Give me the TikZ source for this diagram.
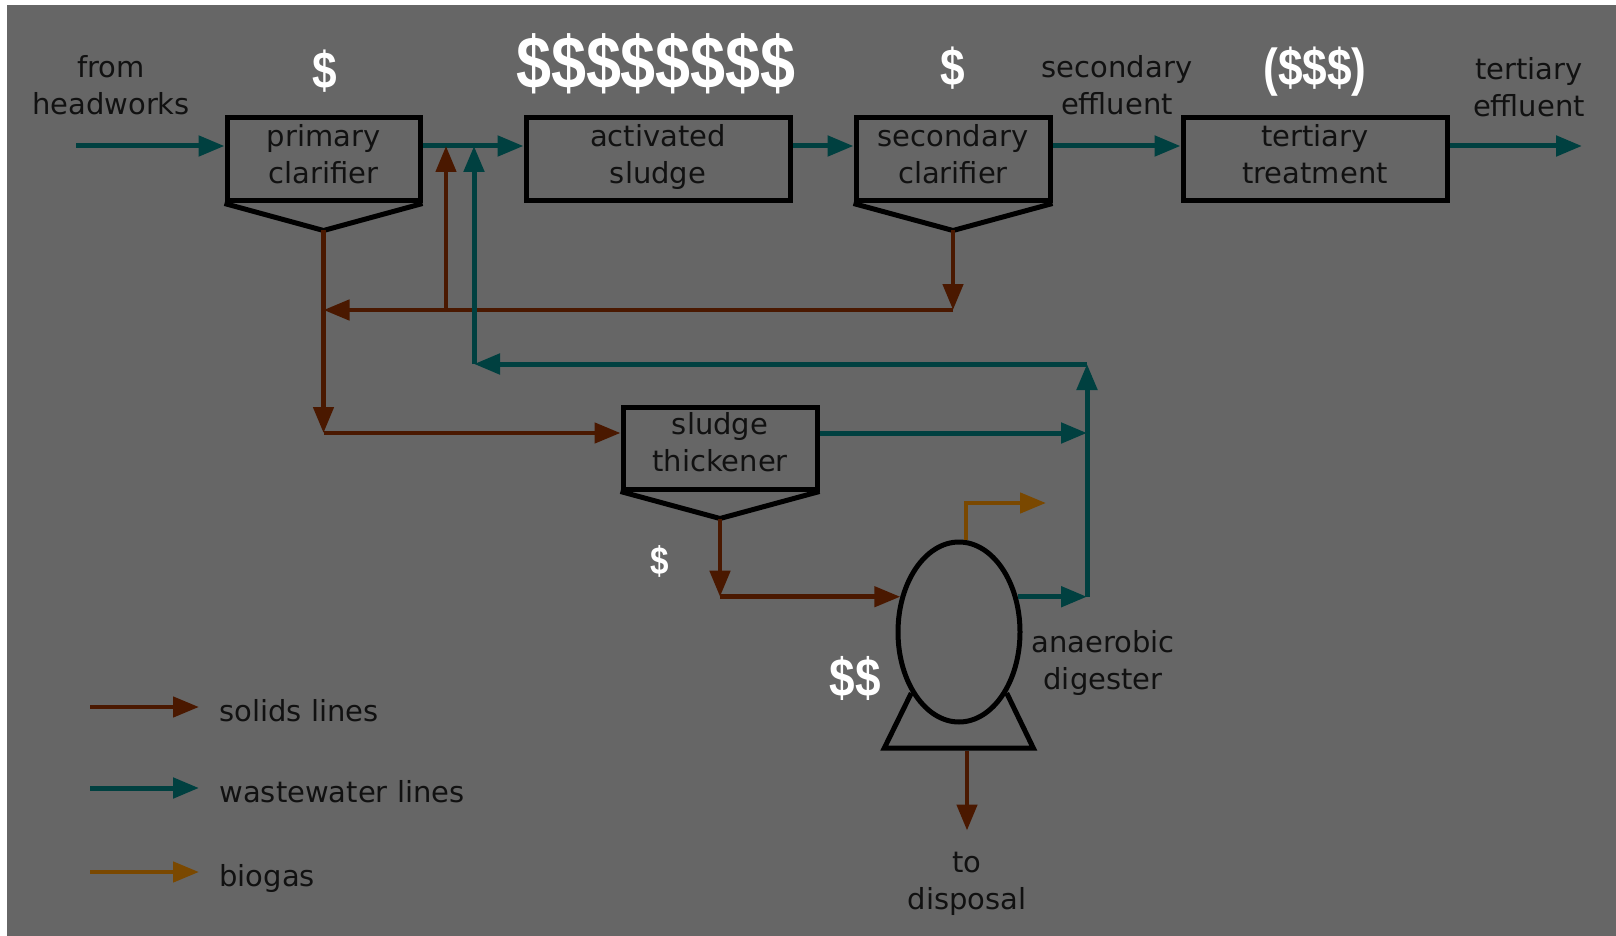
\documentclass[tikz,border=0pt]{standalone}
\usepackage{fontspec}
\setmainfont{DejaVu Sans}
\newfontfamily\dollarfont{Liberation Sans}[FakeStretch=0.85]
\usepackage{tikz}
\usetikzlibrary{arrows.meta, positioning, calc, shapes.geometric}

\definecolor{bggray}{RGB}{102,102,102}
\definecolor{solidc}{RGB}{74,24,0}
\definecolor{waterc}{RGB}{0,64,64}
\definecolor{gasc}{RGB}{122,72,0}
\definecolor{inkc}{RGB}{17,17,17}

\begin{document}
\begin{tikzpicture}[
  x=0.5pt, y=-0.5pt,
  >={Triangle[length=13pt, width=10pt]},
  lbl/.style={text=inkc, align=center, inner sep=0pt,
    font=\fontsize{14.5}{18.5}\selectfont},
  unit/.style={lbl, draw=black, line width=2.5pt, minimum height=41.5pt, text depth=6pt},
  vessel/.style={draw=black, line width=2.5pt},
  tank/.style={vessel, ellipse, inner sep=0pt, minimum width=61pt, minimum height=90pt},
  cost/.style={text=white, inner sep=0pt},
  solids/.style={draw=solidc, line width=2.3pt, ->},
  water/.style={draw=waterc, line width=2.5pt, ->},
  gas/.style={draw=gasc, line width=2.3pt, ->},
]
  \useasboundingbox (0,0) rectangle (1616,936);
  \fill[bggray] (7,5) rectangle (1616,936);

  % Process units
  \node[unit, minimum width=96.5pt] (pc) at (323.5,159.5) {primary\\clarifier};
  \node[unit, minimum width=132pt]  (as) at (658,159.5)   {activated\\sludge};
  \node[unit, minimum width=97pt]   (sc) at (953,159.5)   {secondary\\clarifier};
  \node[unit, minimum width=132pt]  (tt) at (1315,159.5)  {tertiary\\treatment};
  \node[unit, minimum width=97pt, minimum height=41pt] (th) at (720,448) {sludge\\thickener};
  \node[tank] (dg) at (959,632) {};

  % Hoppers under the clarifiers and the thickener
  \coordinate (pc-cone) at ($(pc.south)+(0,27)$);
  \coordinate (sc-cone) at ($(sc.south)+(0,27)$);
  \coordinate (th-cone) at ($(th.south)+(0,27)$);
  \draw[vessel] (pc.south west) -- (pc-cone) -- (pc.south east);
  \draw[vessel] (sc.south west) -- (sc-cone) -- (sc.south east);
  \draw[vessel] (th.south west) -- (th-cone) -- (th.south east);

  % Digester stand
  \draw[vessel] (dg.232) -- ++(-27,55) -- ++(149,0) -- (dg.308);

  % Main wastewater line
  \coordinate (feed) at (76,146);
  \coordinate (eff)  at (1582,146);
  \draw[water] (feed) -- (feed -| pc.west);
  \draw[water] (pc.east |- feed) -- (as.west |- feed);
  \draw[water] (as.east |- feed) -- (sc.west |- feed);
  \draw[water] (sc.east |- feed) -- (tt.west |- feed);
  \draw[water] (tt.east |- feed) -- (eff);

  % Return sludge from the secondary clarifier
  \coordinate (ras)    at (953,310);
  \coordinate (ras-up) at (446,310);
  \draw[solids] (sc-cone) -- (ras);
  \draw[solids] (ras) -- (pc-cone |- ras);
  \draw[solids] (ras-up) -- (ras-up |- feed);

  % Primary sludge to the thickener
  \coordinate (ps) at (323.5,433);
  \draw[solids] (pc-cone) -- (ps);
  \draw[solids] (ps) -- (ps -| th.west);

  % Thickened sludge to the digester
  \coordinate (ts) at (720,0 |- dg.149);
  \draw[solids] (th-cone) -- (ts);
  \draw[solids] (ts) -- (dg.149);

  % Supernatant back to the head of the plant
  \coordinate (sn)     at (1087,0 |- dg.31);
  \coordinate (sn-top) at (1087,364);
  \coordinate (sn-in)  at (474,364);
  \draw[water] (ps -| th.east) -- (ps -| sn);
  \draw[water] (dg.31) -- (sn);
  \draw[water] (sn) -- (sn-top);
  \draw[water] (sn-top) -- (sn-in);
  \draw[water] (sn-in) -- (sn-in |- feed);

  % Biogas
  \coordinate (flare) at (1046,503);
  \draw[gas] ([xshift=3.5pt]dg.north) |- (flare);

  % Digested sludge
  \coordinate (dg-base) at ($(dg.south)+(8,26)$);
  \coordinate (dump)    at ($(dg-base)+(0,80)$);
  \draw[solids] (dg-base) -- (dump);

  % Stream labels
  \node[lbl] (hw)   at (111,85)   {from\\headworks};
  \node[lbl] (se)   at (1117,85)  {secondary\\effluent};
  \node[lbl] (te)   at (1529,87)  {tertiary\\effluent};
  \node[lbl] (ad)   at (1103,663) {anaerobic\\digester};
  \node[lbl] (disp) at (967,884)  {to\\disposal};

  % Costs
  \node[cost, font=\dollarfont\bfseries\fontsize{26}{26}\selectfont] (pc-cost) at (325,71)  {\$};
  \node[cost, font=\dollarfont\bfseries\fontsize{37}{37}\selectfont] (as-cost) at (656,64)  {\$\$\$\$\$\$\$\$};
  \node[cost, font=\dollarfont\bfseries\fontsize{26}{26}\selectfont] (sc-cost) at (953,68)  {\$};
  \node[cost, font=\dollarfont\bfseries\fontsize{26}{26}\selectfont] (tt-cost) at (1315,72) {(\$\$\$)};
  \node[cost, font=\dollarfont\bfseries\fontsize{19.5}{19.5}\selectfont] (th-cost) at (660,561) {\$};
  \node[cost, font=\dollarfont\bfseries\fontsize{27}{27}\selectfont] (dg-cost) at (855,678) {\$\$};

  % Legend
  \foreach \y/\s/\t in {707/solids/solids lines, 788/water/wastewater lines, 872/gas/biogas} {
    \coordinate (key-\s-a) at (90,\y);
    \coordinate (key-\s-b) at (199,\y);
    \node[lbl, anchor=base west] (key-\s) at (219,\y+14) {\t};
    \draw[\s] (key-\s-a) -- (key-\s-b);
  }
\end{tikzpicture}
\end{document}
